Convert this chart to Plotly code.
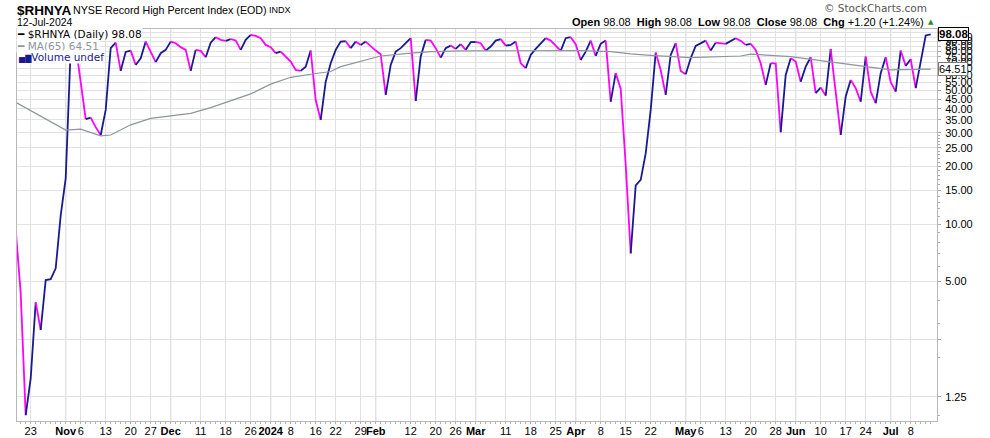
import math
import pandas as pd
import plotly.graph_objects as go

# ---------------- data ----------------
holidays = ["2023-11-23", "2023-12-25", "2024-01-01", "2024-01-15", "2024-02-19",
            "2024-03-29", "2024-05-27", "2024-06-19", "2024-07-04"]
dates = [d.strftime("%Y-%m-%d") for d in pd.bdate_range("2023-10-18", "2024-07-12")
         if d.strftime("%Y-%m-%d") not in holidays]

values = [
    9.4, 4.34, 1.00, 1.56, 3.89, 2.79, 5.09, 5.15, 5.86, 11.1,
    17.3, 83.0, 86.0, 56.7, 35.4, 36.0, 32.1, 29.2, 39.5, 83.1,
    88.8, 63.2, 79.4, 80.7, 67.9, 73.6, 89.9, 79.7, 70.2, 78.2,
    81.4, 89.9, 88.2, 84.1, 81.4, 63.2, 81.4, 80.4, 74.5, 88.8,
    94.8, 91.8, 90.7, 92.6, 91.2, 81.4, 91.8, 97.5, 96.3, 93.7,
    86.4, 84.1, 78.2, 79.7, 75.1, 70.7, 63.9, 63.2, 66.5, 80.7,
    44.5, 35.0, 55.5, 69.3, 81.4, 89.9, 90.3, 83.1, 89.9, 86.4,
    89.9, 84.7, 80.7, 77.3, 47.3, 67.9, 79.7, 83.1, 88.2, 93.7,
    44.0, 75.1, 91.8, 91.0, 83.1, 74.2, 83.1, 85.7, 82.3, 87.2,
    81.4, 89.3, 89.5, 88.2, 80.7, 84.7, 91.0, 92.6, 85.7, 86.4,
    89.9, 69.3, 65.3, 76.6, 82.3, 87.5, 93.7, 91.0, 85.7, 80.4,
    93.7, 94.8, 87.2, 72.1, 79.7, 91.0, 75.7, 87.5, 91.0, 43.6,
    61.5, 51.0, 20.4, 7.02, 15.9, 17.0, 23.4, 39.5, 78.8, 63.9,
    47.3, 76.6, 88.2, 63.2, 60.7, 73.6, 85.4, 88.2, 91.0, 80.7,
    88.8, 88.2, 87.5, 91.0, 93.7, 90.7, 86.4, 87.5, 81.4, 69.3,
    53.4, 69.3, 69.0, 30.2, 60.2, 73.6, 70.7, 55.5, 66.5, 74.5,
    48.3, 51.7, 46.9, 82.1, 49.1, 29.2, 46.4, 56.7, 51.3, 43.6,
    75.1, 49.2, 42.8, 61.5, 74.5, 55.1, 49.2, 80.7, 67.1, 72.7,
    51.3, 69.3, 96.88, 98.08,
]

ma_dates = ["2023-10-18", "2023-11-01", "2023-11-06", "2023-11-10", "2023-11-14",
            "2023-11-20", "2023-11-27", "2023-12-01", "2023-12-07", "2023-12-13",
            "2023-12-19", "2023-12-26", "2024-01-02", "2024-01-08", "2024-01-12",
            "2024-01-19", "2024-01-23", "2024-01-29", "2024-02-02", "2024-02-12",
            "2024-02-16", "2024-02-27", "2024-03-14", "2024-04-02", "2024-04-10",
            "2024-04-16", "2024-04-22", "2024-05-02", "2024-05-16", "2024-05-20",
            "2024-05-31", "2024-06-14", "2024-07-01", "2024-07-12"]
ma_values = [43.3, 31.0, 31.3, 28.9, 29.2, 33.0, 35.7, 36.7, 37.9, 40.6,
             44.1, 47.9, 53.9, 58.5, 60.7, 62.7, 66.5, 71.2, 75.6, 78.2,
             79.7, 80.4, 80.7, 80.7, 79.7, 77.5, 76.1, 74.1, 75.6, 77.3,
             75.1, 69.3, 63.9, 64.51]

tick_dates = ["2023-10-23", "2023-11-01", "2023-11-06", "2023-11-13", "2023-11-20",
              "2023-11-27", "2023-12-01", "2023-12-11", "2023-12-18", "2023-12-26",
              "2024-01-02", "2024-01-08", "2024-01-16", "2024-01-22", "2024-01-29",
              "2024-02-01", "2024-02-12", "2024-02-20", "2024-02-26", "2024-03-01",
              "2024-03-11", "2024-03-18", "2024-03-25", "2024-04-01", "2024-04-08",
              "2024-04-15", "2024-04-22", "2024-05-01", "2024-05-06", "2024-05-13",
              "2024-05-20", "2024-05-28", "2024-06-03", "2024-06-10", "2024-06-17",
              "2024-06-24", "2024-07-01", "2024-07-08"]
tick_text = ["23", "<b>Nov</b>", "6", "13", "20", "27", "<b>Dec</b>", "11", "18", "26",
             "<b>2024</b>", "8", "16", "22", "29", "<b>Feb</b>", "12", "20", "26", "<b>Mar</b>",
             "11", "18", "25", "<b>Apr</b>", "8", "15", "22", "<b>May</b>", "6", "13",
             "20", "28", "<b>Jun</b>", "10", "17", "24", "<b>Jul</b>", "8"]
month_dates = ["2023-11-01", "2023-12-01", "2024-01-02", "2024-02-01", "2024-03-01",
               "2024-04-01", "2024-05-01", "2024-06-03", "2024-07-01"]

y_tick_vals = [1.25, 2.5, 5, 10, 15, 20, 25, 30, 35, 40, 45, 50, 55, 60, 65, 70, 75,
               80, 85, 90, 95, 100]
y_tick_text = ["1.25", "", "5.00", "10.00", "15.00", "20.00", "25.00", "30.00", "35.00",
               "40.00", "45.00", "50.00", "55.00", "60.00", "65.00", "70.00", "75.00",
               "80.00", "85.00", "90.00", "95.00", ""]
y_minor_vals = [1, 2, 3, 4, 6, 7, 8, 9, 11, 12, 13, 14, 16, 17, 18, 19, 21, 22, 23, 24,
                26, 27, 28, 29]

last_close = 98.08
last_ma = 64.51

# ---------------- figure ----------------
NAVY = "#1a1a8f"
MAGENTA = "#ff00ff"
MA_GRAY = "#8c969c"
FONT = "Liberation Sans, Arial, sans-serif"
LFONT = "DejaVu Sans, Verdana, sans-serif"

fig = go.Figure()

# MA on an overlaid twin x-axis (same categories/range) that carries the daily minor ticks
fig.add_trace(go.Scatter(x=ma_dates, y=ma_values, mode="lines", xaxis="x2",
                         line=dict(color=MA_GRAY, width=1.2), hoverinfo="skip"))

# colored runs: navy when rising, magenta when falling
runs = []
cur_color = None
cur_x, cur_y = [], []
for i in range(1, len(values)):
    col = NAVY if values[i] >= values[i - 1] else MAGENTA
    if col != cur_color:
        if cur_color is not None:
            runs.append((cur_color, cur_x, cur_y))
        cur_color = col
        cur_x, cur_y = [dates[i - 1]], [values[i - 1]]
    cur_x.append(dates[i])
    cur_y.append(values[i])
runs.append((cur_color, cur_x, cur_y))

for col, xs, ys in runs:
    fig.add_trace(go.Scatter(x=xs, y=ys, mode="lines",
                             line=dict(color=col, width=1.8), hoverinfo="skip"))

shapes = []
for d in month_dates:
    shapes.append(dict(type="line", xref="x", yref="paper", x0=d, x1=d, y0=0, y1=1,
                       line=dict(color="#b9b9b9", width=1), layer="below"))


def head(text, x, xanchor, xshift, yshift, size, color="black", family=FONT, **kw):
    d = dict(text=text, x=x, xref="paper", xanchor=xanchor, xshift=xshift, y=1,
             yref="paper", yanchor="middle", yshift=yshift, showarrow=False,
             font=dict(family=family, size=size, color=color))
    d.update(kw)
    return d


ann = []
# header
ann.append(head("<b>$RHNYA</b>", 0, "left", -2, 19, 13.5))
ann.append(head("NYSE Record High Percent Index (EOD)", 0, "left", 54, 19, 10.7))
ann.append(head("INDX", 0, "left", 250, 19, 9))
ann.append(head("12-Jul-2024", 0, "left", -2, 7, 10.5))
ann.append(head("© StockCharts.com", 1, "right", -8, 21, 10.5, color="#555555",
                family=LFONT))
ann.append(head("<b>Open</b> 98.08&nbsp;&nbsp;<b>High</b> 98.08&nbsp;&nbsp;<b>Low</b> 98.08"
                "&nbsp;&nbsp;<b>Close</b> 98.08&nbsp;&nbsp;<b>Chg</b> +1.20 (+1.24%)",
                1, "right", -11, 7, 11))
ann.append(head("▲", 1, "right", -1, 7, 7, color="#1e8c2e", family=LFONT))

# in-plot legend
ann.append(head("<b>━</b> $RHNYA (Daily) 98.08", 0, "left", -1, -5, 10.5,
                family=LFONT, bgcolor="white", borderpad=0))
ann.append(head("<b>━</b> MA(65) 64.51", 0, "left", -1, -16.5, 10.5,
                color="#8c969c", family=LFONT, bgcolor="white", borderpad=0))
ann.append(head("<span style='font-size:8px'>▅▇</span>Volume undef", 0, "left", 0,
                -27.5, 10.5, color=NAVY, family=LFONT, bgcolor="white", borderpad=0))

# value boxes on the right axis
ann.append(dict(text="<b>%.2f</b>" % last_close, x=1, xref="paper", xanchor="left",
                xshift=1, y=math.log10(last_close), yref="y", yanchor="middle",
                showarrow=False, bgcolor="white", bordercolor="black", borderwidth=1,
                borderpad=0, font=dict(family=FONT, size=11.5, color="black")))
ann.append(dict(text="%.2f" % last_ma, x=1, xref="paper", xanchor="left",
                xshift=1, y=math.log10(last_ma), yref="y", yanchor="middle",
                showarrow=False, bgcolor="white", bordercolor="#777777", borderwidth=1,
                borderpad=0, font=dict(family=FONT, size=11, color="black")))

xrange_ = [0.26, 184.26]
fig.update_layout(
    width=990, height=438,
    margin=dict(l=17, r=53, t=29, b=17, autoexpand=False),
    paper_bgcolor="white", plot_bgcolor="white",
    showlegend=False,
    shapes=shapes,
    annotations=ann,
    xaxis=dict(type="category", categoryorder="array", categoryarray=dates,
               range=xrange_, tickmode="array", tickvals=tick_dates,
               ticktext=tick_text, tickangle=0, automargin=False,
               showgrid=True, gridcolor="#e2e2e2", gridwidth=1,
               ticks="", showline=True, linecolor="#b8b8b8", mirror=True,
               zeroline=False, fixedrange=True,
               tickfont=dict(family=FONT, size=11, color="black")),
    xaxis2=dict(type="category", categoryorder="array", categoryarray=dates,
                range=xrange_, overlaying="x", anchor="y", side="bottom",
                tickmode="array", tickvals=dates, showticklabels=False,
                ticks="outside", ticklen=2, tickcolor="#b0b0b0", showgrid=False,
                showline=False, zeroline=False, automargin=False, fixedrange=True),
    yaxis=dict(type="log", side="right", range=[-0.0302, 2.0197], tickmode="array",
               tickvals=y_tick_vals, ticktext=y_tick_text, showgrid=True,
               gridcolor="#e2e2e2", gridwidth=1, ticks="outside", ticklen=3,
               tickcolor="#aaaaaa", showline=True, linecolor="#b8b8b8", mirror=True,
               zeroline=False, ticklabelstandoff=2, automargin=False, fixedrange=True,
               tickfont=dict(family=FONT, size=11, color="black"),
               minor=dict(tickmode="array", tickvals=y_minor_vals, ticks="outside",
                          ticklen=2, tickcolor="#aaaaaa", showgrid=False)),
)

# remove the browser's default 8px body margin so the figure fills the window
fig.write_html("out.html", config={"displayModeBar": False},
               post_script="document.body.style.margin='0';")
